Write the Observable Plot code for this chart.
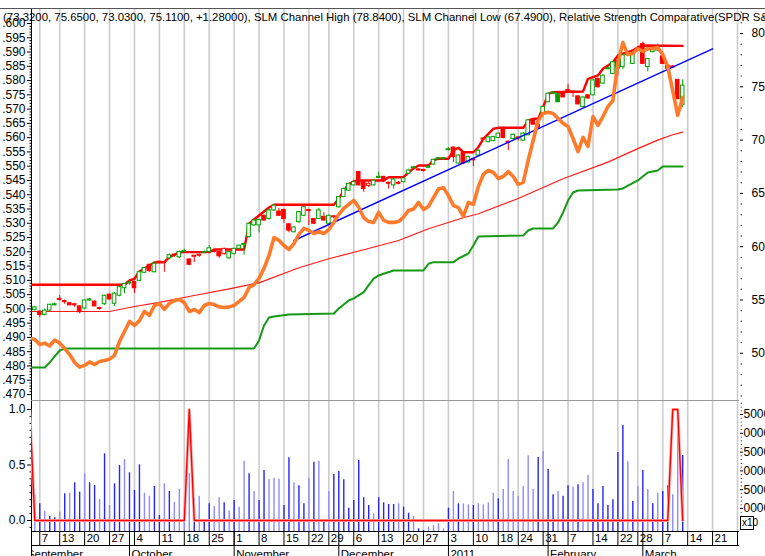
<!DOCTYPE html>
<html><head><meta charset="utf-8">
<script src="https://cdn.jsdelivr.net/npm/d3@7"></script>
<script src="https://cdn.jsdelivr.net/npm/@observablehq/plot@0.6"></script>
<style>
body{margin:0;background:#fff;}
#wrap{position:relative;width:765px;height:556px;overflow:hidden;background:#fff;font-family:"Liberation Sans",Arial,sans-serif;}
#wrap svg{position:absolute;left:0;top:0;}
#topline{position:absolute;left:0;top:8px;width:765px;height:0;border-top:1px solid #555;}
#hdr{position:absolute;left:3px;top:10px;font-size:11.4px;line-height:14px;white-space:nowrap;color:#000;}
#x10{position:absolute;left:740px;top:516px;width:11px;height:12px;border:1px solid #000;font-size:10px;line-height:12px;padding-left:1px;overflow:visible;white-space:nowrap;background:#fff;}
</style></head><body><div id="wrap"><div id="topline"></div></div>
<script>
// ---------- DATA ----------
const headerText = "(73.3200, 75.6500, 73.0300, 75.1100, +1.28000), SLM Channel High (78.8400), SLM Channel Low (67.4900), Relative Strength Comparative(SPDR S&P 500)";
const holidays = ["2010-09-06","2010-11-25","2010-12-24","2011-01-17","2011-02-21"];
const monthNames = ["January","February","March","April","May","June","July","August","September","October","November","December"];

// daily OHLC, Sep 3 2010 (index 0) .. Mar 11 2011 (index 130)
const open = [54.05,53.9,53.6,54.0,54.5,55.1,54.9,54.7,54.6,54.4,
54.2,54.95,54.85,54.25,54.6,55.5,54.65,55.4,56.1,56.55,
56.7,56.8,57.55,58.3,57.6,58.6,58.55,58.9,59.25,59.0,
59.5,58.8,59.15,59.25,59.4,59.5,59.6,59.5,59.8,58.9,
59.3,59.8,60.15,60.9,62.0,62.0,62.9,62.6,63.4,63.3,
63.45,62.1,61.35,62.3,62.9,63.45,62.6,62.6,62.8,62.15,
62.85,63.7,64.65,65.25,65.75,67.0,66.05,65.9,65.75,66.45,
66.55,66.0,65.75,66.0,66.05,66.85,67.35,67.25,67.2,67.4,
67.7,68.2,68.2,69.05,69.3,67.8,68.8,67.9,68.2,68.55,
70.15,69.8,69.9,70.2,71.15,69.85,70.1,70.25,69.95,70.45,
71.85,71.45,72.5,73.55,74.35,73.55,74.5,74.7,74.55,74.1,
73.1,74.2,74.2,75.75,75.3,76.65,76.2,77.45,76.85,77.95,
77.15,78.35,79.0,76.85,78.25,78.4,77.85,77.0,76.9,75.65,
73.32];
const close = [54.3,53.6,54.0,54.55,54.6,55.0,54.8,54.5,54.5,53.85,
54.95,55.05,54.4,54.15,55.4,55.05,55.6,56.2,56.5,56.65,
56.1,57.6,58.0,57.7,58.4,58.5,58.45,59.2,59.15,59.5,
59.6,58.3,59.05,59.15,59.5,59.85,59.5,59.1,59.3,59.5,
59.8,60.1,60.25,62.15,62.45,62.5,62.45,63.4,63.85,62.9,
62.6,61.5,61.8,63.25,63.7,63.35,62.15,63.4,62.45,62.9,
62.75,64.65,65.4,65.9,66.05,65.75,65.4,65.7,66.2,66.55,
66.15,65.9,66.3,65.9,66.4,67.15,67.45,67.15,67.1,67.5,
68.15,68.3,68.3,69.15,68.4,68.55,67.8,68.4,68.1,69.0,
70.05,70.25,70.3,70.6,70.2,69.75,70.5,70.15,70.6,71.85,
71.45,71.05,73.1,74.35,74.45,74.3,74.0,74.6,74.45,73.35,
74.0,73.9,75.6,74.95,76.05,76.75,77.3,76.7,77.95,78.05,
78.1,78.45,77.15,77.6,78.55,78.7,77.15,76.7,76.8,73.83,
75.11];
const high = [54.4,54.0,54.15,54.6,54.7,55.4,55.0,54.75,54.7,54.45,
55.0,55.15,54.9,54.3,55.45,55.55,55.7,56.25,56.55,56.8,
56.75,57.7,58.05,58.35,58.5,58.6,58.6,59.3,59.3,59.6,
59.75,58.85,59.2,59.3,59.6,60.1,59.65,59.55,59.85,59.55,
59.85,60.15,60.3,62.2,62.55,62.55,62.95,63.5,63.95,63.6,
63.5,62.15,61.9,63.3,63.75,63.5,62.65,63.6,63.2,62.95,
62.9,64.7,65.5,65.95,66.15,67.05,66.1,66.0,66.25,67.0,
66.6,66.05,66.35,66.1,66.5,67.25,67.55,67.3,67.25,67.6,
68.2,68.35,68.35,69.3,69.35,68.6,68.85,68.5,68.3,69.1,
70.2,70.3,70.35,70.65,71.2,69.9,70.55,70.3,70.7,71.9,
71.9,71.5,73.15,74.4,74.5,74.35,74.55,75.2,74.6,74.15,
74.05,74.25,75.65,75.8,76.1,76.8,77.35,78.0,78.0,78.1,
78.15,78.5,79.2,77.65,78.6,79.0,77.9,77.05,77.0,75.7,
75.65];
const low = [53.95,53.35,53.5,53.95,54.45,54.9,54.6,54.45,54.3,53.7,
54.1,54.9,54.35,54.05,54.5,55.0,54.4,55.3,55.6,56.4,
55.6,56.7,57.5,57.6,57.55,58.4,57.6,58.8,59.0,58.9,
59.4,58.2,58.5,59.0,59.35,59.45,59.4,58.9,59.2,58.85,
59.25,59.7,59.2,60.8,61.9,61.3,62.4,62.5,63.3,62.85,
62.2,61.3,61.3,62.2,62.85,62.0,62.1,62.55,62.4,62.1,
62.6,63.6,64.6,65.2,65.7,65.7,65.1,65.55,65.7,66.4,
66.0,65.4,65.4,65.8,66.0,66.8,67.3,67.1,67.0,67.35,
67.65,68.15,68.1,69.0,67.9,67.75,67.7,67.85,67.5,68.5,
70.0,69.75,69.85,70.15,70.1,69.0,70.05,69.9,69.9,70.4,
71.4,71.0,72.3,73.5,74.3,73.5,73.95,74.55,74.0,73.3,
73.05,73.85,74.15,74.9,75.25,76.6,76.15,76.0,76.6,77.9,
77.1,78.3,77.1,76.4,78.2,78.35,77.1,76.6,76.7,73.8,
73.03];

// Relative Strength Comparative, index -1 .. 130
const rscStart = -1;
const rsc = [0.4897,
0.4893,0.4875,0.4880,0.4870,0.4891,0.4880,0.4861,0.4840,0.4812,0.4796,
0.4802,0.4814,0.4805,0.4816,0.4819,0.4824,0.4837,0.4886,0.4921,0.4956,
0.4942,0.4959,0.4991,0.4977,0.5012,0.5019,0.4998,0.5019,0.5029,0.5033,
0.5022,0.4991,0.4998,0.4987,0.5012,0.5019,0.5015,0.5007,0.5005,0.5007,
0.5012,0.5026,0.5040,0.5075,0.5085,0.5107,0.5142,0.5187,0.5250,0.5240,
0.5222,0.5208,0.5229,0.5261,0.5282,0.5275,0.5264,0.5271,0.5264,0.5278,
0.5303,0.5331,0.5352,0.5366,0.5380,0.5356,0.5320,0.5306,0.5303,0.5338,
0.5310,0.5303,0.5303,0.5306,0.5322,0.5345,0.5350,0.5373,0.5348,0.5359,
0.5390,0.5420,0.5425,0.5397,0.5362,0.5355,0.5324,0.5373,0.5366,0.5429,
0.5471,0.5485,0.5478,0.5457,0.5464,0.5481,0.5464,0.5436,0.5443,0.5520,
0.5590,0.5660,0.5685,0.5689,0.5685,0.5667,0.5650,0.5639,0.5597,0.5551,
0.5601,0.5569,0.5674,0.5643,0.5674,0.5709,0.5730,0.5863,0.5933,0.5891,
0.5895,0.5912,0.5902,0.5912,0.5912,0.5916,0.5891,0.5849,0.5765,0.5678,
0.5741];

// line vertices [day index, price]
const movingAvg = [[-1,53.92],[15,53.92],[20,54.39],[25,54.77],[32,55.42],[39,56.05],[45,56.61],[53,58.02],[59,58.87],[66,59.71],[73,60.58],[79,61.68],[86,62.71],[89,63.09],[97,64.52],[106,66.37],[115,67.93],[121,69.2],[125,70.0],[128,70.5],[130,70.74]];
const channelHigh = [[-1,56.43],[18,56.43],[19,56.83],[20,56.99],[21,57.67],[22,57.95],[23,58.24],[24,58.52],[26,58.55],[27,59.02],[28,59.24],[29,59.46],[30,59.49],[35,59.49],[36,59.74],[42,59.74],[43,62.15],[44,62.55],[45,62.93],[46,63.3],[47,63.68],[48,63.93],[60,63.93],[61,64.49],[62,65.27],[63,65.83],[64,66.14],[65,66.21],[70,66.21],[71,66.52],[74,66.52],[75,66.96],[76,67.34],[77,67.62],[79,67.62],[80,68.09],[81,68.25],[83,68.25],[84,69.02],[85,69.28],[86,68.86],[88,68.86],[89,69.33],[90,70.12],[91,70.59],[92,71.06],[93,71.15],[98,71.15],[99,71.84],[100,72.0],[101,72.0],[102,73.09],[103,74.34],[104,74.49],[110,74.56],[111,75.75],[112,75.9],[113,76.06],[114,76.69],[115,77.0],[116,77.31],[117,77.94],[118,78.1],[119,78.25],[120,78.41],[121,78.71],[122,78.87],[130,78.84]];
const channelLow = [[-1,48.67],[2,48.67],[3,49.14],[4,49.7],[5,50.26],[6,50.45],[44,50.45],[45,51.2],[46,52.61],[47,53.36],[48,53.45],[51,53.64],[60,53.73],[61,54.2],[63,54.95],[64,55.15],[66,55.73],[67,56.4],[68,57.0],[69,57.3],[70,57.46],[72,57.77],[78,57.77],[79,58.4],[80,58.55],[84,58.55],[85,58.89],[87,59.36],[88,60.11],[89,60.96],[98,61.05],[99,61.52],[100,61.71],[104,61.71],[105,62.27],[106,63.21],[107,64.33],[108,65.08],[109,65.27],[117,65.37],[118,65.46],[121,66.21],[123,66.96],[125,67.15],[126,67.52],[130,67.52]];
const trendLine = [[52,60.58],[136,78.56]];

// volume (axis units, x10), index 0..130, and bar shade (1 = dark)
const volume = [13460,11250,9280,7870,7530,9020,13910,14070,16840,14340,
19230,16840,16120,12390,24550,10800,16570,21440,23030,19500,
14790,21620,14070,13270,15850,8140,16570,14520,11600,15050,
10800,19230,12580,13270,6500,11250,10530,12850,11520,9280,
12130,10350,22580,19230,14520,12130,20110,17710,18060,17790,
10800,23490,16840,16040,11250,18060,22320,22580,6800,14520,
19040,19840,17630,10080,12130,22770,12850,10800,8590,12850,
11520,11060,11060,11250,10350,8750,7870,4600,4150,5030,
5480,5930,4600,10080,14520,11250,11250,10980,10800,11250,
10980,11520,14070,12580,15050,23030,14520,13190,15850,24020,
15050,23570,25160,20370,13640,14520,13270,16040,15670,16300,
16840,18860,15050,11250,15850,10800,12310,24900,32080,22420,
11860,15850,20110,15050,11250,14070,14520,16040,13640,36250,
24100];
const volDark = [0,1,0,1,1,0,1,0,1,1, 0,1,1,0,1,0,1,1,0,1, 1,1,0,0,1,1,0,1,0,0, 0,0,1,0,1,1,0,0,1,0,
1,0,0,1,0,1,1,0,0,0, 1,1,0,1,1,0,1,0,1,0, 1,1,1,1,1,1,1,1,0,1, 1,1,1,0,1,1,0,1,1,0,
0,0,0,1,0,1,0,0,1,0, 0,0,0,1,0,0,0,0,0,0, 0,1,0,1,1,0,1,1,0,1, 0,0,1,1,1,1,1,1,1,0,
1,0,1,0,1,0,1,1,0,0, 1];

// lower-panel signal, index -1 .. 130
const signalStart = -1;
const signal = [1,
0,0,0,0,0,0,0,0,0,0,0,0,0,0,0,0,0,0,0,0,0,0,0,0,0,0,0,0,0,0,0,
1,
0,0,0,0,0,0,0,0,0,0,0,0,0,0,0,0,
0,0,0,0,0,0,0,0,0,0,0,0,0,0,0,0,
0,0,0,0,0,0,0,0,0,0,0,0,0,0,0,0,
0,0,0,0,0,0,0,0,0,0,0,0,0,0,0,0,
0,0,0,0,0,0,0,0,0,0,0,0,0,0,0,0,
0,0,0,0,0,0,0,0,0,0,0,0,0,0,0,0,
1,1,0];

// axis ticks
const priceTicks = [50,55,60,65,70,75,80];
const rscTicks = [0.47,0.475,0.48,0.485,0.49,0.495,0.5,0.505,0.51,0.515,0.52,0.525,0.53,0.535,0.54,0.545,0.55,0.555,0.56,0.565,0.57,0.575,0.58,0.585,0.59,0.595,0.6];
const volTicks = [10000,15000,20000,25000,30000,35000];
const signalTicks = [0,0.5,1];

// ---------- LAYOUT ----------
const W = 765, H = 556;
const FL = 31, FR = 739, TOP = 9, MID = 400, BOT = 531;
const xDomain = [-0.66, 141.4];
const pxPerDay = (FR - FL) / (xDomain[1] - xDomain[0]);
const font = "'Liberation Sans', Arial, sans-serif";
const base = (top, bottom) => ({
  width: W, height: H, marginLeft: FL, marginRight: W - FR, marginTop: top, marginBottom: H - bottom,
  style: {background: "transparent", fontFamily: font, fontSize: "12px", color: "#000", overflow: "visible"}
});

// trading days calendar (Sep 1 2010 = index -2)
const days = [];
for (let t = Date.UTC(2010, 8, 1); t <= Date.UTC(2011, 2, 31); t += 864e5) {
  const d = new Date(t), wd = d.getUTCDay();
  if (wd === 0 || wd === 6) continue;
  if (holidays.includes(d.toISOString().slice(0, 10))) continue;
  days.push(d);
}
const weekStarts = [], monthStarts = [];
days.forEach((d, p) => {
  const i = p - 2;
  if (p === 0) { monthStarts.push({i, d}); return; }
  const prev = days[p - 1];
  if (d.getUTCDay() <= prev.getUTCDay() || (d - prev) > 4 * 864e5) weekStarts.push({i, d});
  if (d.getUTCMonth() !== prev.getUTCMonth()) monthStarts.push({i, d});
});
const weekIdx = weekStarts.map(w => w.i).filter(i => i <= xDomain[1]);

const candles = open.map((o, i) => ({i, o, h: high[i], l: low[i], c: close[i], pc: i > 0 ? close[i - 1] : o}));
const GREEN = "#00a000", RED = "#ff0000";
const cColor = d => d.c >= d.o ? GREEN : RED;
const cFill = d => d.c < d.pc ? cColor(d) : "#fff";
const pts = a => a.map(([i, v]) => ({i, v}));
const rscData = rsc.map((v, k) => ({i: k + rscStart, v}));
const sigData = signal.map((v, k) => ({i: k + signalStart, v}));
const volData = volume.map((v, i) => ({i, v, dark: volDark[i]}));

const wrap = document.getElementById("wrap");
const xEdgeR = xDomain[1] + 0.35, xEdgeL = xDomain[0];

// Price panel (right axis)
const minorPrice = d3.range(46, 83).filter(v => v % 5 !== 0);
wrap.appendChild(Plot.plot({
  ...base(TOP, MID),
  x: {domain: xDomain, axis: null},
  y: {domain: [45.57, 82.25], axis: "right", ticks: priceTicks, tickSize: 3, tickPadding: 9, tickFormat: d => String(d), label: null},
  marks: [
    Plot.ruleX(weekIdx, {stroke: "#cccccc", strokeWidth: 1.6}),
    Plot.ruleX([xDomain[0]], {stroke: "#000", strokeWidth: 1}),
    Plot.line(pts(movingAvg), {x: "i", y: "v", stroke: "#ff1a1a", strokeWidth: 1.2, clip: true}),
    Plot.line(pts(channelLow), {x: "i", y: "v", stroke: "#169a16", strokeWidth: 2, clip: true}),
    Plot.line(pts(channelHigh), {x: "i", y: "v", stroke: "#ff0000", strokeWidth: 2.4, clip: true}),
    Plot.ruleX(candles, {x: "i", y1: "l", y2: "h", stroke: cColor, strokeWidth: 1}),
    Plot.rect(candles, {x1: d => d.i - 0.36, x2: d => d.i + 0.36, y1: "o", y2: "c", fill: cFill, stroke: cColor, strokeWidth: 1}),
    Plot.line(pts(trendLine), {x: "i", y: "v", stroke: "#0000ff", strokeWidth: 1.4}),
    Plot.dot(minorPrice, {x: () => xEdgeR, y: d => d, r: 0.7, fill: "#222", stroke: null})
  ]
}));

// RSC panel (left axis)
const minorRsc = d3.range(470, 601).filter(v => v % 5 !== 0).map(v => v / 1000);
wrap.appendChild(Plot.plot({
  ...base(TOP, MID),
  x: {domain: xDomain, axis: null},
  y: {domain: [0.4679, 0.6049], axis: "left", ticks: rscTicks, tickSize: 4, tickPadding: 2, tickFormat: d => d3.format(".3f")(d).replace(/^0/, ""), label: null},
  marks: [
    Plot.link(minorRsc, {x1: () => xEdgeL - 0.4, x2: () => xEdgeL, y1: d => d, y2: d => d, stroke: "#000", strokeWidth: 1}),
    Plot.line(rscData, {x: "i", y: "v", stroke: "#ff7b2c", strokeWidth: 3.6, strokeLinejoin: "round", clip: true})
  ]
}));

// Volume panel (right axis)
const minorVol = d3.range(5000, 38001, 1000).filter(v => v % 5000 !== 0);
wrap.appendChild(Plot.plot({
  ...base(MID, BOT),
  x: {domain: xDomain, axis: null},
  y: {domain: [3883, 38723], axis: "right", ticks: volTicks, tickSize: 3, tickPadding: 1, tickFormat: d => String(d).slice(-4), label: null},
  marks: [
    Plot.ruleX(weekIdx, {stroke: "#cccccc", strokeWidth: 1.6}),
    Plot.ruleX([xDomain[0]], {stroke: "#000", strokeWidth: 1}),
    Plot.ruleY([38723], {stroke: "#999", strokeWidth: 1}),
    Plot.ruleX(volData, {x: "i", y1: 0, y2: "v", stroke: d => d.dark ? "#2424ff" : "#8c8cff", strokeWidth: 1.4, clip: true}),
    Plot.dot(minorVol, {x: () => xEdgeR, y: d => d, r: 0.6, fill: "#222", stroke: null})
  ]
}));

// Signal line (left axis)
const minorSig = d3.range(-1, 17).map(k => k / 16).filter(v => v % 0.5 !== 0);
wrap.appendChild(Plot.plot({
  ...base(MID, BOT),
  x: {domain: xDomain, axis: null},
  y: {domain: [-0.099, 1.081], axis: "left", ticks: signalTicks, tickSize: 4, tickPadding: 2, tickFormat: d3.format(".1f"), label: null},
  marks: [
    Plot.link(minorSig, {x1: () => xEdgeL - 0.4, x2: () => xEdgeL, y1: d => d, y2: d => d, stroke: "#000", strokeWidth: 1}),
    Plot.line(sigData, {x: "i", y: "v", stroke: "#ffb0b0", strokeWidth: 3, clip: true}),
    Plot.line(sigData, {x: "i", y: "v", stroke: "#ff0000", strokeWidth: 1.4, clip: true})
  ]
}));

// Date axis rows
const dayLabel = w => String(w.d.getUTCDate());
const monthLabel = m => m.d.getUTCMonth() === 0 ? String(m.d.getUTCFullYear()) : monthNames[m.d.getUTCMonth()];
wrap.appendChild(Plot.plot({
  ...base(BOT, H),
  style: {background: "transparent", fontFamily: font, fontSize: "11.5px", color: "#000", overflow: "visible"},
  x: {domain: xDomain, axis: null},
  y: {domain: [25, 0], axis: null},
  marks: [
    Plot.ruleY([0, 14], {stroke: "#000", strokeWidth: 1}),
    Plot.ruleX([xDomain[0]], {y1: 0, y2: 25, stroke: "#000"}),
    Plot.ruleX(weekStarts, {x: "i", y1: 0, y2: 14, stroke: "#000", strokeWidth: 1, clip: true}),
    Plot.ruleX(monthStarts, {x: "i", y1: 0, y2: 25, stroke: "#000", strokeWidth: 1, clip: true}),
    Plot.text(weekStarts, {x: "i", y: () => 7.3, text: dayLabel, textAnchor: "start", dx: 2, fill: "#000", clip: true}),
    Plot.text(monthStarts, {x: "i", y: () => 22.5, text: monthLabel, textAnchor: "start", dx: 2, fill: "#000", clip: true})
  ]
}));

const hdr = document.createElement("div");
hdr.id = "hdr"; hdr.textContent = headerText;
wrap.appendChild(hdr);
const x10 = document.createElement("div");
x10.id = "x10"; x10.textContent = "x10";
wrap.appendChild(x10);
</script></body></html>
